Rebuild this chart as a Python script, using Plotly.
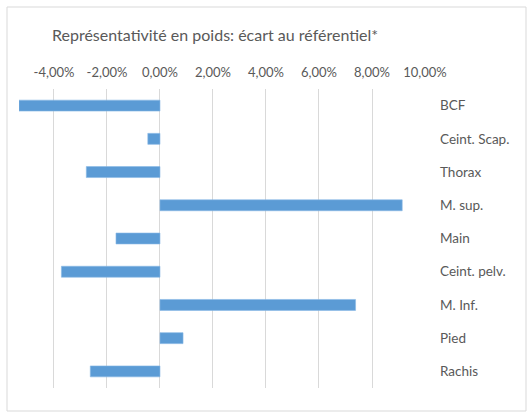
import plotly.graph_objects as go

# Weight representativeness: deviation from the reference (in %)
categories = ["BCF", "Ceint. Scap.", "Thorax", "M. sup.", "Main",
              "Ceint. pelv.", "M. Inf.", "Pied", "Rachis"]
deviation_pct = [-5.32, -0.46, -2.78, 9.14, -1.66, -3.72, 7.38, 0.87, -2.63]

tick_values = [-4, -2, 0, 2, 4, 6, 8, 10]
tick_labels = ["-4,00%", "-2,00%", "0,00%", "2,00%", "4,00%", "6,00%", "8,00%", "10,00%"]

W, H = 527, 412
L, R, T, B = 19, 102, 89, 24
text_color = "#595959"
grid_color = "#d9d9d9"
font_family = "Lato, 'Open Sans', sans-serif"

fig = go.Figure(
    go.Bar(
        x=deviation_pct,
        y=categories,
        orientation="h",
        marker=dict(color="#5B9BD5", line=dict(color="#8ab8e6", width=0.6)),
        hoverinfo="x+y",
    )
)

pw, ph = W - L - R, H - T - B

fig.update_layout(
    width=W,
    height=H,
    margin=dict(l=L, r=R, t=T, b=B, pad=0),
    paper_bgcolor="white",
    plot_bgcolor="white",
    bargap=0.67,
    showlegend=False,
    font=dict(family=font_family, color=text_color, size=13),
    title=dict(
        text="Représentativité en poids: écart au référentiel*",
        xref="container", yref="container",
        x=52 / W, xanchor="left",
        y=1 - 35 / H, yanchor="middle",
        font=dict(size=16, color=text_color, family=font_family),
    ),
    xaxis=dict(
        side="top",
        range=[-5.32, 10],
        tickvals=tick_values,
        ticktext=tick_labels,
        showgrid=True,
        gridcolor=grid_color,
        gridwidth=1,
        zeroline=False,
        showline=False,
        ticks="",
        ticklabelstandoff=8,
        tickfont=dict(size=13, color=text_color),
        fixedrange=True,
    ),
    yaxis=dict(
        side="right",
        categoryorder="array",
        categoryarray=categories,
        autorange="reversed",
        showgrid=False,
        zeroline=False,
        showline=False,
        ticks="",
        ticklabelstandoff=14,
        tickfont=dict(size=13.5, color=text_color),
        fixedrange=True,
    ),
    shapes=[
        dict(
            type="rect", xref="paper", yref="paper",
            x0=(7 - L) / pw, x1=(526 - L) / pw,
            y0=-(411 - (H - B)) / ph, y1=1 + (T - 7) / ph,
            line=dict(color=grid_color, width=1),
            fillcolor="rgba(0,0,0,0)",
            layer="below",
        )
    ],
)

fig.write_html("out.html")
